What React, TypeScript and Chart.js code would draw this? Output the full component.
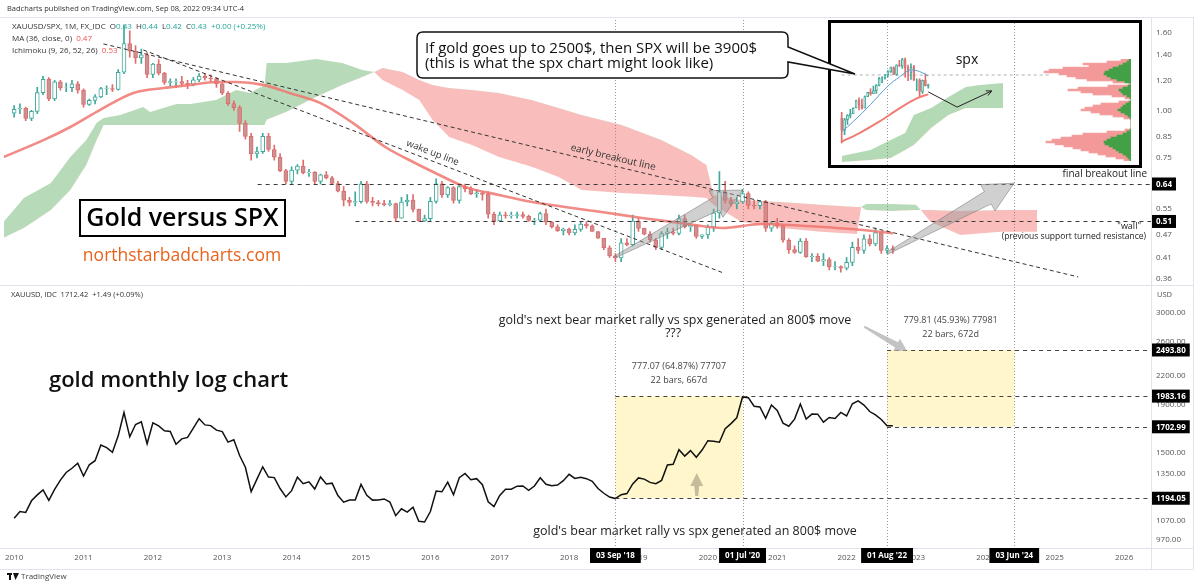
import React, { useEffect, useRef } from 'react';
import { Chart, registerables } from 'chart.js';

Chart.register(...registerables);

const FONT = '"Open Sans", "DejaVu Sans", Arial, sans-serif';

// XAUUSD/SPX monthly candles from Jan 2010 to Sep 2022: [open, high, low, close]
const ratioOHLC: number[][] = [
  [0.983, 1.03, 0.96, 1.007], [1.007, 1.04, 0.98, 1.012], [1.012, 1.02, 0.94, 0.952], [0.952, 1.0, 0.94, 0.994],
  [0.994, 1.15, 0.98, 1.114], [1.114, 1.23, 1.1, 1.207], [1.207, 1.22, 1.06, 1.072], [1.072, 1.2, 1.06, 1.189],
  [1.189, 1.2, 1.13, 1.145], [1.145, 1.18, 1.12, 1.147], [1.147, 1.2, 1.12, 1.174], [1.174, 1.19, 1.11, 1.13],
  [1.13, 1.14, 1.02, 1.036], [1.036, 1.07, 1.03, 1.062], [1.062, 1.1, 1.04, 1.085], [1.085, 1.15, 1.08, 1.141],
  [1.141, 1.16, 1.1, 1.142], [1.142, 1.17, 1.12, 1.136], [1.136, 1.28, 1.13, 1.26], [1.26, 1.68, 1.25, 1.5],
  [1.5, 1.62, 1.38, 1.432], [1.432, 1.48, 1.33, 1.374], [1.374, 1.45, 1.33, 1.4], [1.4, 1.42, 1.22, 1.244],
  [1.244, 1.33, 1.22, 1.324], [1.324, 1.36, 1.24, 1.252], [1.252, 1.26, 1.17, 1.185], [1.185, 1.21, 1.16, 1.19],
  [1.19, 1.21, 1.15, 1.191], [1.191, 1.23, 1.16, 1.178], [1.178, 1.2, 1.14, 1.171], [1.171, 1.22, 1.16, 1.203],
  [1.203, 1.25, 1.19, 1.231], [1.231, 1.25, 1.2, 1.217], [1.217, 1.24, 1.19, 1.21], [1.21, 1.22, 1.15, 1.174],
  [1.174, 1.18, 1.1, 1.11], [1.11, 1.12, 1.03, 1.042], [1.042, 1.06, 1.0, 1.017], [1.017, 1.03, 0.88, 0.924],
  [0.924, 0.94, 0.84, 0.854], [0.854, 0.87, 0.74, 0.768], [0.768, 0.8, 0.75, 0.779], [0.779, 0.87, 0.77, 0.855],
  [0.855, 0.87, 0.78, 0.789], [0.789, 0.81, 0.74, 0.753], [0.753, 0.77, 0.69, 0.694], [0.694, 0.7, 0.64, 0.65],
  [0.65, 0.71, 0.64, 0.696], [0.696, 0.72, 0.68, 0.713], [0.713, 0.74, 0.68, 0.686], [0.686, 0.7, 0.67, 0.688],
  [0.688, 0.69, 0.64, 0.65], [0.65, 0.68, 0.64, 0.677], [0.677, 0.69, 0.66, 0.664], [0.664, 0.67, 0.64, 0.642],
  [0.642, 0.65, 0.61, 0.613], [0.613, 0.63, 0.56, 0.58], [0.58, 0.59, 0.56, 0.572], [0.572, 0.61, 0.56, 0.575],
  [0.575, 0.65, 0.57, 0.641], [0.641, 0.65, 0.57, 0.576], [0.576, 0.59, 0.56, 0.572], [0.572, 0.58, 0.56, 0.568],
  [0.568, 0.58, 0.56, 0.565], [0.565, 0.58, 0.56, 0.568], [0.568, 0.57, 0.51, 0.52], [0.52, 0.59, 0.52, 0.574],
  [0.574, 0.6, 0.56, 0.581], [0.581, 0.6, 0.54, 0.549], [0.549, 0.55, 0.51, 0.512], [0.512, 0.53, 0.51, 0.519],
  [0.519, 0.59, 0.51, 0.576], [0.576, 0.66, 0.57, 0.641], [0.641, 0.65, 0.59, 0.599], [0.599, 0.63, 0.59, 0.626],
  [0.626, 0.63, 0.57, 0.579], [0.579, 0.64, 0.57, 0.63], [0.63, 0.64, 0.61, 0.622], [0.622, 0.63, 0.6, 0.603],
  [0.603, 0.62, 0.59, 0.607], [0.607, 0.61, 0.58, 0.601], [0.601, 0.61, 0.52, 0.533], [0.533, 0.54, 0.5, 0.512],
  [0.512, 0.54, 0.51, 0.531], [0.531, 0.54, 0.52, 0.528], [0.528, 0.54, 0.52, 0.529], [0.529, 0.54, 0.52, 0.532],
  [0.532, 0.54, 0.52, 0.526], [0.526, 0.53, 0.51, 0.513], [0.513, 0.52, 0.5, 0.514], [0.514, 0.54, 0.51, 0.535],
  [0.535, 0.55, 0.5, 0.508], [0.508, 0.51, 0.49, 0.494], [0.494, 0.5, 0.48, 0.482], [0.482, 0.49, 0.47, 0.487],
  [0.487, 0.49, 0.47, 0.476], [0.476, 0.5, 0.47, 0.486], [0.486, 0.51, 0.48, 0.502], [0.502, 0.51, 0.49, 0.497],
  [0.497, 0.5, 0.48, 0.48], [0.48, 0.48, 0.46, 0.461], [0.461, 0.46, 0.43, 0.435], [0.435, 0.44, 0.41, 0.414],
  [0.414, 0.42, 0.4, 0.409], [0.409, 0.46, 0.4, 0.448], [0.448, 0.46, 0.44, 0.443], [0.443, 0.53, 0.44, 0.511],
  [0.511, 0.52, 0.48, 0.489], [0.489, 0.49, 0.47, 0.472], [0.472, 0.48, 0.45, 0.456], [0.456, 0.46, 0.43, 0.436],
  [0.436, 0.48, 0.43, 0.474], [0.474, 0.49, 0.46, 0.479], [0.479, 0.49, 0.47, 0.474], [0.474, 0.53, 0.47, 0.519],
  [0.519, 0.53, 0.49, 0.494], [0.494, 0.5, 0.48, 0.498], [0.498, 0.5, 0.46, 0.466], [0.466, 0.47, 0.46, 0.47],
  [0.47, 0.5, 0.46, 0.493], [0.493, 0.55, 0.48, 0.537], [0.537, 0.69, 0.52, 0.61], [0.61, 0.65, 0.57, 0.579],
  [0.579, 0.59, 0.56, 0.568], [0.568, 0.59, 0.55, 0.574], [0.574, 0.62, 0.57, 0.604], [0.604, 0.61, 0.55, 0.562],
  [0.562, 0.58, 0.55, 0.561], [0.561, 0.58, 0.55, 0.575], [0.575, 0.58, 0.48, 0.49], [0.49, 0.51, 0.48, 0.505],
  [0.505, 0.52, 0.49, 0.497], [0.497, 0.5, 0.45, 0.455], [0.455, 0.46, 0.42, 0.43], [0.43, 0.44, 0.42, 0.423],
  [0.423, 0.46, 0.42, 0.453], [0.453, 0.46, 0.41, 0.412], [0.412, 0.42, 0.4, 0.413], [0.413, 0.42, 0.4, 0.401],
  [0.401, 0.42, 0.39, 0.405], [0.405, 0.41, 0.38, 0.387], [0.387, 0.4, 0.38, 0.388], [0.388, 0.39, 0.375, 0.384],
  [0.384, 0.41, 0.38, 0.398], [0.398, 0.45, 0.39, 0.436], [0.436, 0.46, 0.42, 0.428], [0.428, 0.47, 0.42, 0.459],
  [0.459, 0.47, 0.44, 0.445], [0.445, 0.49, 0.44, 0.477], [0.477, 0.48, 0.42, 0.428], [0.428, 0.44, 0.42, 0.433],
  [0.433, 0.44, 0.42, 0.43],
];

// XAUUSD monthly closes from Jan 2010 to Sep 2022
const goldClose: number[] = [
  1081, 1118, 1113, 1179, 1214, 1244, 1181, 1248, 1307, 1357, 1386, 1421,
  1333, 1410, 1439, 1556, 1536, 1500, 1628, 1828, 1620, 1722, 1746, 1565,
  1737, 1710, 1669, 1664, 1561, 1604, 1615, 1692, 1773, 1719, 1713, 1675,
  1663, 1578, 1596, 1476, 1393, 1234, 1313, 1396, 1327, 1323, 1253, 1202,
  1240, 1326, 1284, 1296, 1250, 1327, 1282, 1287, 1210, 1171, 1183, 1184,
  1279, 1212, 1183, 1184, 1190, 1172, 1095, 1133, 1115, 1142, 1065, 1061,
  1118, 1238, 1233, 1293, 1215, 1322, 1351, 1309, 1316, 1277, 1173, 1146,
  1211, 1249, 1249, 1268, 1269, 1242, 1269, 1322, 1280, 1271, 1275, 1303,
  1345, 1318, 1325, 1316, 1299, 1253, 1224, 1201, 1192, 1215, 1222, 1282,
  1321, 1313, 1292, 1284, 1305, 1409, 1414, 1520, 1472, 1513, 1464, 1517,
  1589, 1585, 1577, 1687, 1730, 1781, 1975, 1968, 1886, 1879, 1776, 1898,
  1847, 1734, 1708, 1769, 1906, 1770, 1814, 1813, 1743, 1783, 1774, 1829,
  1797, 1909, 1937, 1897, 1837, 1807, 1766, 1711, 1712,
];
const FIRST_YEAR = 2010;

// MA (36, close) of the ratio, as [decimal year] / [value]
const maT = [2009.85, 2010.43, 2010.81, 2011.24, 2011.72, 2012.15, 2012.54, 2012.91, 2013.2, 2013.59, 2013.97, 2014.41,
  2014.88, 2015.35, 2015.78, 2016.13, 2016.5, 2016.99, 2017.47, 2017.94, 2018.47, 2019.05, 2019.62, 2020.21,
  2020.78, 2021.35, 2022.07, 2022.67];
const maV = [0.754, 0.836, 0.904, 1.003, 1.111, 1.145, 1.167, 1.188, 1.188, 1.167, 1.111, 1.046,
  0.927, 0.801, 0.727, 0.676, 0.629, 0.599, 0.574, 0.557, 0.54, 0.521, 0.505, 0.49,
  0.502, 0.497, 0.487, 0.475];

// Ichimoku leading spans (already shifted 26 bars forward)
const cloudT = [2009.85, 2010.14, 2010.53, 2010.81, 2011.04, 2011.19, 2011.29, 2011.53, 2011.86, 2011.96, 2012.34, 2012.54,
  2012.91, 2013.2, 2013.4, 2013.61, 2013.64, 2013.92, 2014.35, 2014.73, 2015.02, 2015.19, 2015.31, 2015.6,
  2015.84, 2016.03, 2016.27, 2016.6, 2016.99, 2017.46, 2017.85, 2018.18, 2018.76, 2019.33, 2019.76, 2019.98,
  2020.08, 2020.48, 2021.06, 2021.63, 2022.15, 2022.21, 2022.28, 2022.64, 2023.0, 2023.07, 2023.21, 2023.64,
  2024.22, 2024.75];
const spanA = [0.509, 0.588, 0.644, 0.754, 0.836, 0.927, 0.955, 0.973, 1.02, 0.99, 1.04, 1.04,
  1.065, 1.132, 1.111, 1.166, 1.333, 1.333, 1.366, 1.333, 1.278, 1.262, 1.202, 1.132,
  1.065, 0.944, 0.851, 0.811, 0.754, 0.71, 0.668, 0.617, 0.606, 0.599, 0.592, 0.588,
  0.564, 0.509, 0.49, 0.479, 0.473, 0.557, 0.567, 0.567, 0.564, 0.547, 0.509, 0.47,
  0.479, 0.479];
const spanB = [0.462, 0.49, 0.547, 0.617, 0.718, 0.836, 0.915, 0.915, 0.915, 0.915, 0.915, 0.915,
  0.915, 0.915, 0.915, 0.915, 0.944, 0.99, 1.085, 1.166, 1.225, 1.262, 1.293, 1.262,
  1.202, 1.166, 1.145, 1.132, 1.111, 1.065, 1.015, 0.973, 0.915, 0.836, 0.763, 0.718,
  0.599, 0.581, 0.574, 0.564, 0.557, 0.557, 0.547, 0.5435, 0.547, 0.547, 0.547, 0.5435,
  0.547, 0.547];

// Axis ticks
const yearTicks = [2010, 2011, 2012, 2013, 2014, 2015, 2016, 2017, 2018, 2019, 2020, 2021, 2022, 2023, 2024, 2025, 2026];
const topTicks = [1.6, 1.4, 1.2, 1.0, 0.85, 0.75, 0.55, 0.47, 0.41, 0.36];
const botTicks = [3000, 2600, 2200, 1900, 1500, 1350, 1070, 970];

// Horizontal levels (value, first decimal year they are drawn from)
const topLevelValues = [0.64, 0.51];
const topLevelFrom = [2013.51, 2014.92];
const botLevelValues = [2493.8, 1983.16, 1702.99, 1194.05];
const botLevelFrom = [2022.583, 2018.667, 2022.583, 2018.667];

// Date markers
const markerDates = [2018.667, 2020.5, 2022.583, 2024.417];
const markerLabels = ["03 Sep '18", "01 Jul '20", "01 Aug '22", "03 Jun '24"];

// Rally measurement boxes in the gold pane
const rallyFrom = [2018.667, 2022.583];
const rallyTo = [2020.5, 2024.417];
const rallyLow = [1194.05, 1702.99];
const rallyHigh = [1983.16, 2493.8];
const rallyStats = [['777.07 (64.87%) 77707', '22 bars, 667d'], ['779.81 (45.93%) 77981', '22 bars, 672d']];

// Trendlines in the ratio pane: [[year, value], [year, value]]
const wakeUpLine = [[2011.862, 1.442], [2020.224, 0.3733]];
const breakoutLine = [[2011.287, 1.496], [2025.339, 0.3644]];

// Projected moves in the ratio pane: [tail, tip]
const ratioArrows = [
  [[2018.667, 0.412], [2020.5, 0.617]],
  [[2022.59, 0.421], [2024.414, 0.643]],
];
// Pointers in the gold pane
const goldArrowUp = [[2019.84, 1208], [2019.84, 1354]];
const goldArrowDiag = [[2022.253, 2800], [2022.87, 2483]];

// Inset: S&P 500 monthly candles, Mar 2020 to Sep 2022
const spxOHLC: number[][] = [
  [2954, 3136, 2191, 2585], [2585, 2955, 2447, 2912], [2912, 3068, 2766, 3044], [3044, 3233, 2966, 3100],
  [3100, 3280, 3101, 3271], [3271, 3515, 3272, 3500], [3500, 3588, 3210, 3363], [3363, 3550, 3233, 3270],
  [3270, 3646, 3280, 3622], [3622, 3760, 3633, 3756], [3756, 3870, 3663, 3714], [3714, 3950, 3725, 3811],
  [3811, 3994, 3723, 3973], [3973, 4218, 3955, 4181], [4181, 4238, 4056, 4204], [4204, 4302, 4165, 4298],
  [4298, 4429, 4234, 4395], [4395, 4538, 4367, 4523], [4523, 4546, 4305, 4308], [4308, 4608, 4279, 4605],
  [4605, 4744, 4560, 4567], [4567, 4808, 4495, 4766], [4766, 4818, 4222, 4516], [4516, 4595, 4115, 4374],
  [4374, 4637, 4157, 4530], [4530, 4593, 4124, 4132], [4132, 4170, 3810, 4132], [4132, 4177, 3636, 3785],
  [3785, 4140, 3721, 4130], [4130, 4325, 3955, 3955], [3955, 4011, 3886, 3980],
];
const spxFastT = [0, 4, 10, 16, 20, 24, 27, 30];
const spxFastV = [2540, 2850, 3380, 3950, 4230, 4450, 4400, 4260];
const spxSlowT = [0, 6, 13, 20, 26, 30];
const spxSlowV = [2231, 2490, 2849, 3263, 3572, 3695];
const spxCloudT = [0, 10, 17, 22, 25, 31, 37, 43, 48, 56];
const spxCloudTop = [1789, 1975, 2284, 2500, 3056, 3273, 3612, 3921, 3983, 4045];
const spxCloudBot = [1604, 1666, 1727, 1975, 2129, 2655, 3056, 3273, 3273, 3273];
const spxRefLevel = 4292;
const spxPathT = [30, 40, 52];
const spxPathV = [3770, 3300, 3800];
// Inset volume profile, rows from top to bottom
const vpGreen = [2, 4, 8, 12, 18, 22, 26, 27, 24, 20, 14, 6, 0, 3, 8, 12, 10, 8, 4, 1, 0, 2, 5, 8, 10, 13,
  10, 6, 3, 1, 0, 0, 0, 0, 0, 1, 4, 8, 14, 20, 24, 27, 26, 22, 18, 15, 12, 8, 5, 3, 1];
const vpPink = [8, 20, 40, 30, 50, 60, 61, 45, 40, 35, 30, 12, 2, 20, 45, 51, 40, 30, 15, 5, 0, 10, 25, 30, 36, 37,
  30, 25, 15, 6, 0, 0, 0, 0, 0, 5, 20, 40, 45, 50, 55, 58, 50, 45, 40, 35, 30, 25, 20, 12, 6];

const UP_BODY = '#ffffff';
const UP_LINE = '#3fa89a';
const DN_BODY = 'rgba(196,150,150,0.85)';
const DN_LINE = '#e06c6c';
const FRAME = '#e0e3eb';

function monthT(i: number) {
  return FIRST_YEAR + i / 12;
}

function fatArrow(ctx: any, x1: number, y1: number, x2: number, y2: number, o: any) {
  const dx = x2 - x1;
  const dy = y2 - y1;
  const len = Math.hypot(dx, dy);
  const ux = dx / len;
  const uy = dy / len;
  const nx = -uy;
  const ny = ux;
  const bx = x2 - ux * o.headLen;
  const by = y2 - uy * o.headLen;
  const pts = [
    [x1 + (nx * o.tail) / 2, y1 + (ny * o.tail) / 2],
    [bx + (nx * o.shaft) / 2, by + (ny * o.shaft) / 2],
    [bx + (nx * o.head) / 2, by + (ny * o.head) / 2],
    [x2, y2],
    [bx - (nx * o.head) / 2, by - (ny * o.head) / 2],
    [bx - (nx * o.shaft) / 2, by - (ny * o.shaft) / 2],
    [x1 - (nx * o.tail) / 2, y1 - (ny * o.tail) / 2],
  ];
  ctx.beginPath();
  pts.forEach((p, i) => (i ? ctx.lineTo(p[0], p[1]) : ctx.moveTo(p[0], p[1])));
  ctx.closePath();
  ctx.fillStyle = o.fill;
  ctx.fill();
  if (o.stroke) {
    ctx.strokeStyle = o.stroke;
    ctx.lineWidth = 1;
    ctx.stroke();
  }
}

function segText(ctx: any, x: number, y: number, segs: string[][]) {
  let cx = x;
  for (const [s, c] of segs) {
    ctx.fillStyle = c;
    ctx.fillText(s, cx, y);
    cx += ctx.measureText(s).width;
  }
}

function hLine(ctx: any, x0: number, x1: number, y: number) {
  ctx.beginPath();
  ctx.moveTo(x0, y);
  ctx.lineTo(x1, y);
  ctx.stroke();
}

function vLine(ctx: any, x: number, y0: number, y1: number) {
  ctx.beginPath();
  ctx.moveTo(x, y0);
  ctx.lineTo(x, y1);
  ctx.stroke();
}

const decorPlugin = {
  id: 'tvDecor',
  beforeDatasetsDraw(chart: any) {
    const { ctx, scales, chartArea } = chart;
    const X = (t: number) => scales.x.getPixelForValue(t);
    const YB = (v: number) => scales.yBot.getPixelForValue(v);
    ctx.save();
    // rally measurement boxes
    ctx.fillStyle = 'rgba(255,236,140,0.45)';
    for (let i = 0; i < rallyFrom.length; i++) {
      const x0 = X(rallyFrom[i]);
      const x1 = X(rallyTo[i]);
      const y0 = YB(rallyHigh[i]);
      const y1 = YB(rallyLow[i]);
      ctx.fillRect(x0, y0, x1 - x0, y1 - y0);
    }
    // dotted date markers through both panes
    ctx.strokeStyle = '#9a9a9a';
    ctx.lineWidth = 1;
    ctx.setLineDash([1, 2]);
    for (const t of markerDates) {
      vLine(ctx, Math.round(X(t)) + 0.5, chartArea.top, chartArea.bottom);
    }
    ctx.restore();
  },
  afterDatasetsDraw(chart: any) {
    const { ctx, scales, chartArea } = chart;
    const X = (t: number) => scales.x.getPixelForValue(t);
    const YT = (v: number) => scales.yTop.getPixelForValue(v);
    const YB = (v: number) => scales.yBot.getPixelForValue(v);
    const right = chartArea.right;
    ctx.save();

    // horizontal dashed levels
    ctx.lineWidth = 1;
    ctx.setLineDash([4, 4]);
    ctx.strokeStyle = '#3a3a3a';
    topLevelValues.forEach((v, i) => hLine(ctx, X(topLevelFrom[i]), right, Math.round(YT(v)) + 0.5));
    ctx.strokeStyle = '#444';
    botLevelValues.forEach((v, i) => hLine(ctx, X(botLevelFrom[i]), right, Math.round(YB(v)) + 0.5));

    // trendlines
    ctx.setLineDash([4, 3]);
    ctx.strokeStyle = '#333';
    for (const ln of [wakeUpLine, breakoutLine]) {
      ctx.beginPath();
      ctx.moveTo(X(ln[0][0]), YT(ln[0][1]));
      ctx.lineTo(X(ln[1][0]), YT(ln[1][1]));
      ctx.stroke();
    }
    ctx.setLineDash([]);

    // projected-move arrows
    for (const a of ratioArrows) {
      fatArrow(ctx, X(a[0][0]), YT(a[0][1]), X(a[1][0]), YT(a[1][1]), {
        tail: 2, shaft: 14, head: 30, headLen: 30,
        fill: 'rgba(150,150,150,0.45)', stroke: 'rgba(120,120,120,0.55)',
      });
    }
    fatArrow(ctx, X(goldArrowUp[0][0]), YB(goldArrowUp[0][1]), X(goldArrowUp[1][0]), YB(goldArrowUp[1][1]), {
      tail: 3, shaft: 5, head: 13, headLen: 13, fill: 'rgba(178,170,140,0.75)',
    });
    fatArrow(ctx, X(goldArrowDiag[0][0]), YB(goldArrowDiag[0][1]), X(goldArrowDiag[1][0]), YB(goldArrowDiag[1][1]), {
      tail: 2, shaft: 6, head: 14, headLen: 12, fill: 'rgba(175,175,175,0.75)',
    });

    // trendline captions
    const caption = (ln: number[][], frac: number, lift: number, text: string, size: number) => {
      const x0 = X(ln[0][0]);
      const y0 = YT(ln[0][1]);
      const x1 = X(ln[1][0]);
      const y1 = YT(ln[1][1]);
      const ang = Math.atan2(y1 - y0, x1 - x0);
      const cx = x0 + (x1 - x0) * frac;
      const cy = y0 + (y1 - y0) * frac;
      ctx.save();
      ctx.translate(cx, cy);
      ctx.rotate(ang);
      ctx.font = `${size}px ${FONT}`;
      ctx.fillStyle = '#333';
      ctx.textAlign = 'center';
      ctx.textBaseline = 'bottom';
      ctx.fillText(text, 0, -lift);
      ctx.restore();
    };
    caption(wakeUpLine, 0.494, 3, 'wake up line', 9.5);
    caption(breakoutLine, 0.521, 3, 'early breakout line', 10);

    ctx.textBaseline = 'middle';
    ctx.fillStyle = '#222';
    ctx.textAlign = 'right';
    ctx.font = `10px ${FONT}`;
    ctx.fillText('final breakout line', 1147, 174);
    ctx.font = `9px ${FONT}`;
    ctx.fillText('"wall"', 1141, 226);
    ctx.font = `8.5px ${FONT}`;
    ctx.fillText('(previous support turned resistance)', 1146, 237);

    // title box
    ctx.textAlign = 'left';
    ctx.fillStyle = '#fff';
    ctx.fillRect(80, 200, 205, 36);
    ctx.strokeStyle = '#000';
    ctx.lineWidth = 2;
    ctx.strokeRect(80, 200, 205, 36);
    ctx.fillStyle = '#000';
    ctx.font = `600 25px ${FONT}`;
    ctx.textAlign = 'center';
    ctx.fillText('Gold versus SPX', 182.5, 219);
    ctx.font = `17.5px ${FONT}`;
    ctx.fillStyle = '#e8641e';
    ctx.fillText('northstarbadcharts.com', 182, 256);

    ctx.fillStyle = '#111';
    ctx.font = `600 22px ${FONT}`;
    ctx.textAlign = 'left';
    ctx.fillText('gold monthly log chart', 49, 381);

    // gold pane notes
    ctx.font = `12.5px ${FONT}`;
    ctx.fillStyle = '#222';
    ctx.textAlign = 'center';
    ctx.fillText("gold's next bear market rally vs spx generated an 800$ move", 675, 320);
    ctx.fillText('???', 673, 333);
    ctx.fillText("gold's bear market rally vs spx generated an 800$ move", 695, 531);
    ctx.font = `9px ${FONT}`;
    ctx.fillStyle = '#444';
    for (let i = 0; i < rallyFrom.length; i++) {
      const cx = (X(rallyFrom[i]) + X(rallyTo[i])) / 2;
      const top = YB(rallyHigh[i]);
      ctx.fillText(rallyStats[i][0], cx, top - 30);
      ctx.fillText(rallyStats[i][1], cx, top - 16);
    }
    ctx.restore();
  },
  afterDraw(chart: any) {
    const { ctx, scales, chartArea } = chart;
    const X = (t: number) => scales.x.getPixelForValue(t);
    const YT = (v: number) => scales.yTop.getPixelForValue(v);
    const YB = (v: number) => scales.yBot.getPixelForValue(v);
    const paneSplit = scales.yTop.bottom;
    ctx.save();

    // frame
    ctx.strokeStyle = FRAME;
    ctx.lineWidth = 1;
    hLine(ctx, 0, 1193, chartArea.top + 0.5);
    hLine(ctx, 0, 1193, Math.round(paneSplit) + 0.5);
    hLine(ctx, 0, 1193, chartArea.bottom + 0.5);
    hLine(ctx, 0, 1193, 569.5);
    vLine(ctx, chartArea.right + 0.5, chartArea.top, 569.5);
    vLine(ctx, 1193.5, chartArea.top, 569.5);

    // price boxes on the axes
    const priceBox = (y: number, text: string) => {
      ctx.font = `bold 8px ${FONT}`;
      const w = ctx.measureText(text).width + 8;
      ctx.fillStyle = '#000';
      ctx.fillRect(chartArea.right + 1, y - 6.5, w, 13);
      ctx.fillStyle = '#fff';
      ctx.textAlign = 'left';
      ctx.textBaseline = 'middle';
      ctx.fillText(text, chartArea.right + 5, y + 0.5);
    };
    topLevelValues.forEach((v) => priceBox(YT(v), v.toFixed(2)));
    botLevelValues.forEach((v) => priceBox(YB(v), v.toFixed(2)));

    // date boxes on the time axis
    ctx.font = `bold 8px ${FONT}`;
    markerDates.forEach((t, i) => {
      const w = ctx.measureText(markerLabels[i]).width + 12;
      const cx = X(t);
      ctx.fillStyle = '#000';
      ctx.fillRect(cx - w / 2, chartArea.bottom, w, 15);
      ctx.fillStyle = '#fff';
      ctx.textAlign = 'center';
      ctx.textBaseline = 'middle';
      ctx.fillText(markerLabels[i], cx, chartArea.bottom + 8);
    });

    // currency label
    ctx.font = `7.5px ${FONT}`;
    ctx.fillStyle = '#555';
    ctx.textAlign = 'left';
    ctx.fillText('USD', chartArea.right + 6, paneSplit + 10);

    // header and pane legends
    ctx.textBaseline = 'middle';
    ctx.font = `7.5px ${FONT}`;
    ctx.fillStyle = '#333';
    ctx.fillText('Badcharts published on TradingView.com, Sep 08, 2022 09:34 UTC-4', 7, 9);
    ctx.font = `8px ${FONT}`;
    const teal = '#26a69a';
    const red = '#ef5350';
    const grey = '#333';
    segText(ctx, 12, 27, [
      ['XAUUSD/SPX, 1M, FX_IDC  O', grey], ['0.43', teal], ['  H', grey], ['0.44', teal], ['  L', grey],
      ['0.42', teal], ['  C', grey], ['0.43', teal], ['  +0.00 (+0.25%)', teal],
    ]);
    segText(ctx, 12, 39, [['MA (36, close, 0)  ', grey], ['0.47', red]]);
    segText(ctx, 12, 51, [['Ichimoku (9, 26, 52, 26)  ', grey], ['0.53', red]]);
    ctx.font = `7.5px ${FONT}`;
    segText(ctx, 11, paneSplit + 10, [['XAUUSD, IDC  1712.42  +1.49 (+0.09%)', grey]]);

    // footer logo
    ctx.fillStyle = '#111';
    ctx.fillRect(7, 573, 5, 2);
    ctx.fillRect(9, 573, 2, 7);
    ctx.beginPath();
    ctx.moveTo(13, 573);
    ctx.lineTo(19, 573);
    ctx.lineTo(15.5, 580);
    ctx.closePath();
    ctx.fill();
    ctx.font = `8px ${FONT}`;
    ctx.fillStyle = '#444';
    ctx.fillText('TradingView', 21, 577);
    ctx.restore();
  },
};

const insetPlugin = {
  id: 'insetDecor',
  afterDatasetsDraw(chart: any) {
    const { ctx, scales } = chart;
    const X = (t: number) => scales.x.getPixelForValue(t);
    const Y = (v: number) => scales.y.getPixelForValue(v);
    ctx.save();
    const n = spxPathT.length;
    const x1 = X(spxPathT[n - 2]);
    const y1 = Y(spxPathV[n - 2]);
    const x2 = X(spxPathT[n - 1]);
    const y2 = Y(spxPathV[n - 1]);
    const ang = Math.atan2(y2 - y1, x2 - x1);
    ctx.strokeStyle = '#222';
    ctx.lineWidth = 1;
    ctx.beginPath();
    ctx.moveTo(x2 - 6 * Math.cos(ang - 0.45), y2 - 6 * Math.sin(ang - 0.45));
    ctx.lineTo(x2, y2);
    ctx.lineTo(x2 - 6 * Math.cos(ang + 0.45), y2 - 6 * Math.sin(ang + 0.45));
    ctx.stroke();
    ctx.fillStyle = '#111';
    ctx.font = `14px ${FONT}`;
    ctx.textAlign = 'center';
    ctx.textBaseline = 'middle';
    ctx.fillText('spx', X(43.4), Y(4756));
    ctx.restore();
  },
};

function candleSets(ohlc: number[][], tOf: (i: number) => number, yAxisID: string, body: number, order: number) {
  const up = ohlc.map((r) => r[3] >= r[0]);
  return [
    {
      type: 'bar',
      yAxisID,
      grouped: false,
      order: order + 1,
      barThickness: 1,
      data: ohlc.map((r, i) => ({ x: tOf(i), y: [r[2], r[1]] })),
      backgroundColor: up.map((u) => (u ? UP_LINE : DN_LINE)),
      borderWidth: 0,
    },
    {
      type: 'bar',
      yAxisID,
      grouped: false,
      order,
      barThickness: body,
      data: ohlc.map((r, i) => ({ x: tOf(i), y: [Math.min(r[0], r[3]), Math.max(r[0], r[3])] })),
      backgroundColor: up.map((u) => (u ? UP_BODY : DN_BODY)),
      borderColor: up.map((u) => (u ? UP_LINE : DN_LINE)),
      borderWidth: 1,
      borderSkipped: false,
    },
  ];
}

export default function App() {
  const mainRef = useRef<HTMLCanvasElement>(null);
  const insetRef = useRef<HTMLCanvasElement>(null);
  const vpRef = useRef<HTMLCanvasElement>(null);

  useEffect(() => {
    const charts: any[] = [];
    const tickFont = { family: FONT, size: 8 };

    const mainCfg: any = {
      type: 'line',
      data: {
        datasets: [
          {
            label: 'Senkou A',
            yAxisID: 'yTop',
            order: 30,
            data: cloudT.map((t, i) => ({ x: t, y: spanA[i] })),
            borderWidth: 0,
            pointRadius: 0,
            fill: { target: '+1', above: 'rgba(67,160,71,0.38)', below: 'rgba(239,83,80,0.38)' },
          },
          {
            label: 'Senkou B',
            yAxisID: 'yTop',
            order: 31,
            data: cloudT.map((t, i) => ({ x: t, y: spanB[i] })),
            borderWidth: 0,
            pointRadius: 0,
            fill: false,
          },
          ...candleSets(ratioOHLC, monthT, 'yTop', 4, 10),
          {
            label: 'MA 36',
            yAxisID: 'yTop',
            order: 3,
            data: maT.map((t, i) => ({ x: t, y: maV[i] })),
            borderColor: 'rgba(240,118,112,0.85)',
            borderWidth: 2.6,
            pointRadius: 0,
            cubicInterpolationMode: 'monotone',
            fill: false,
          },
          {
            label: 'XAUUSD',
            yAxisID: 'yBot',
            order: 1,
            data: goldClose.map((v, i) => ({ x: monthT(i), y: v })),
            borderColor: '#111',
            borderWidth: 1.5,
            pointRadius: 0,
            tension: 0,
            fill: false,
          },
        ],
      },
      options: {
        responsive: false,
        animation: false,
        devicePixelRatio: 1,
        events: [],
        layout: { padding: { top: 17, bottom: 19, left: 0, right: 7 } },
        plugins: { legend: { display: false }, tooltip: { enabled: false } },
        scales: {
          x: {
            type: 'linear',
            min: 2009.8506,
            max: 2026.388,
            bounds: 'data',
            offset: false,
            grid: { display: false, drawTicks: false },
            border: { display: false },
            ticks: {
              autoSkip: false,
              maxRotation: 0,
              padding: 5,
              color: '#555',
              font: tickFont,
              callback: (v: any) => String(v),
            },
            afterBuildTicks: (s: any) => {
              s.ticks = yearTicks.map((v) => ({ value: v }));
            },
            afterFit: (s: any) => {
              s.height = 21;
            },
          },
          yTop: {
            type: 'logarithmic',
            position: 'right',
            stack: 'panes',
            stackWeight: 268,
            min: 0.347,
            max: 1.761,
            bounds: 'data',
            grid: { display: false, drawTicks: false },
            border: { display: false },
            ticks: {
              padding: 5,
              color: '#555',
              font: tickFont,
              autoSkip: false,
              callback: (v: any) => Number(v).toFixed(2),
            },
            afterBuildTicks: (s: any) => {
              s.ticks = topTicks.map((v) => ({ value: v }));
            },
            afterFit: (s: any) => {
              s.width = 42;
            },
          },
          yBot: {
            type: 'logarithmic',
            position: 'right',
            stack: 'panes',
            stackWeight: 263,
            min: 932.6,
            max: 3444,
            bounds: 'data',
            grid: { display: false, drawTicks: false },
            border: { display: false },
            ticks: {
              padding: 5,
              color: '#555',
              font: tickFont,
              autoSkip: false,
              callback: (v: any) => Number(v).toFixed(2),
            },
            afterBuildTicks: (s: any) => {
              s.ticks = botTicks.map((v) => ({ value: v }));
            },
            afterFit: (s: any) => {
              s.width = 42;
            },
          },
        },
      },
      plugins: [decorPlugin],
    };
    charts.push(new Chart(mainRef.current as any, mainCfg));

    const insetCfg: any = {
      type: 'line',
      data: {
        datasets: [
          {
            order: 30,
            data: spxCloudT.map((t, i) => ({ x: t, y: spxCloudTop[i] })),
            borderWidth: 0,
            pointRadius: 0,
            fill: { target: '+1', above: 'rgba(67,160,71,0.4)', below: 'rgba(239,83,80,0.4)' },
          },
          {
            order: 31,
            data: spxCloudT.map((t, i) => ({ x: t, y: spxCloudBot[i] })),
            borderWidth: 0,
            pointRadius: 0,
            fill: false,
          },
          {
            order: 20,
            data: [{ x: 0, y: spxRefLevel }, { x: 72, y: spxRefLevel }],
            borderColor: '#b0b0b0',
            borderWidth: 1,
            borderDash: [3, 3],
            pointRadius: 0,
            fill: false,
          },
          ...candleSets(spxOHLC, (i: number) => i, 'y', 2, 10),
          {
            order: 4,
            data: spxSlowT.map((t, i) => ({ x: t, y: spxSlowV[i] })),
            borderColor: 'rgba(240,110,100,0.9)',
            borderWidth: 2,
            pointRadius: 0,
            cubicInterpolationMode: 'monotone',
            fill: false,
          },
          {
            order: 3,
            data: spxFastT.map((t, i) => ({ x: t, y: spxFastV[i] })),
            borderColor: '#5b9bd5',
            borderWidth: 1,
            pointRadius: 0,
            cubicInterpolationMode: 'monotone',
            fill: false,
          },
          {
            order: 2,
            data: spxPathT.map((t, i) => ({ x: t, y: spxPathV[i] })),
            borderColor: '#222',
            borderWidth: 1,
            pointRadius: 0,
            tension: 0,
            fill: false,
          },
        ],
      },
      options: {
        responsive: false,
        animation: false,
        devicePixelRatio: 1,
        events: [],
        layout: { padding: 0 },
        plugins: { legend: { display: false }, tooltip: { enabled: false } },
        scales: {
          x: { type: 'linear', min: -3.7, max: 103, display: false, offset: false },
          y: { type: 'linear', min: 1511, max: 5899, display: false },
        },
      },
      plugins: [insetPlugin],
    };
    charts.push(new Chart(insetRef.current as any, insetCfg));

    const vpCfg: any = {
      type: 'bar',
      data: {
        labels: vpGreen.map((_, i) => String(i)),
        datasets: [
          { data: vpGreen, backgroundColor: '#43a047', stack: 'v', barPercentage: 1, categoryPercentage: 1 },
          { data: vpPink, backgroundColor: 'rgba(242,140,140,0.85)', stack: 'v', barPercentage: 1, categoryPercentage: 1 },
        ],
      },
      options: {
        indexAxis: 'y',
        responsive: false,
        animation: false,
        devicePixelRatio: 1,
        events: [],
        layout: { padding: 0 },
        plugins: { legend: { display: false }, tooltip: { enabled: false } },
        scales: {
          x: { stacked: true, reverse: true, min: 0, max: 92, display: false },
          y: { stacked: true, display: false },
        },
      },
    };
    charts.push(new Chart(vpRef.current as any, vpCfg));

    return () => charts.forEach((c) => c.destroy());
  }, []);

  return (
    <div style={{ position: 'fixed', left: 0, top: 0, width: 1200, height: 588, background: '#fff', overflow: 'hidden' }}>
      <canvas ref={mainRef} width={1200} height={588} style={{ position: 'absolute', left: 0, top: 0 }} />
      <div
        style={{
          position: 'absolute',
          left: 828,
          top: 20,
          width: 314,
          height: 148,
          boxSizing: 'border-box',
          border: '3px solid #000',
        }}
      >
        <canvas ref={insetRef} width={308} height={142} style={{ position: 'absolute', left: 0, top: 0 }} />
      </div>
      <canvas ref={vpRef} width={92} height={102} style={{ position: 'absolute', left: 1039, top: 59 }} />
      <svg width={1200} height={588} style={{ position: 'absolute', left: 0, top: 0, pointerEvents: 'none' }}>
        <path
          d="M423,32 H782 Q788,32 788,38 V47 L855,74 L788,62 V72 Q788,78 782,78 H423 Q417,78 417,72 V38 Q417,32 423,32 Z"
          fill="#fff"
          stroke="#111"
          strokeWidth={1.5}
        />
        <text x={425} y={53} fontFamily={FONT} fontSize={15} fill="#111">
          If gold goes up to 2500$, then SPX will be 3900$
        </text>
        <text x={425} y={68} fontFamily={FONT} fontSize={15} fill="#111">
          (this is what the spx chart might look like)
        </text>
      </svg>
    </div>
  );
}
